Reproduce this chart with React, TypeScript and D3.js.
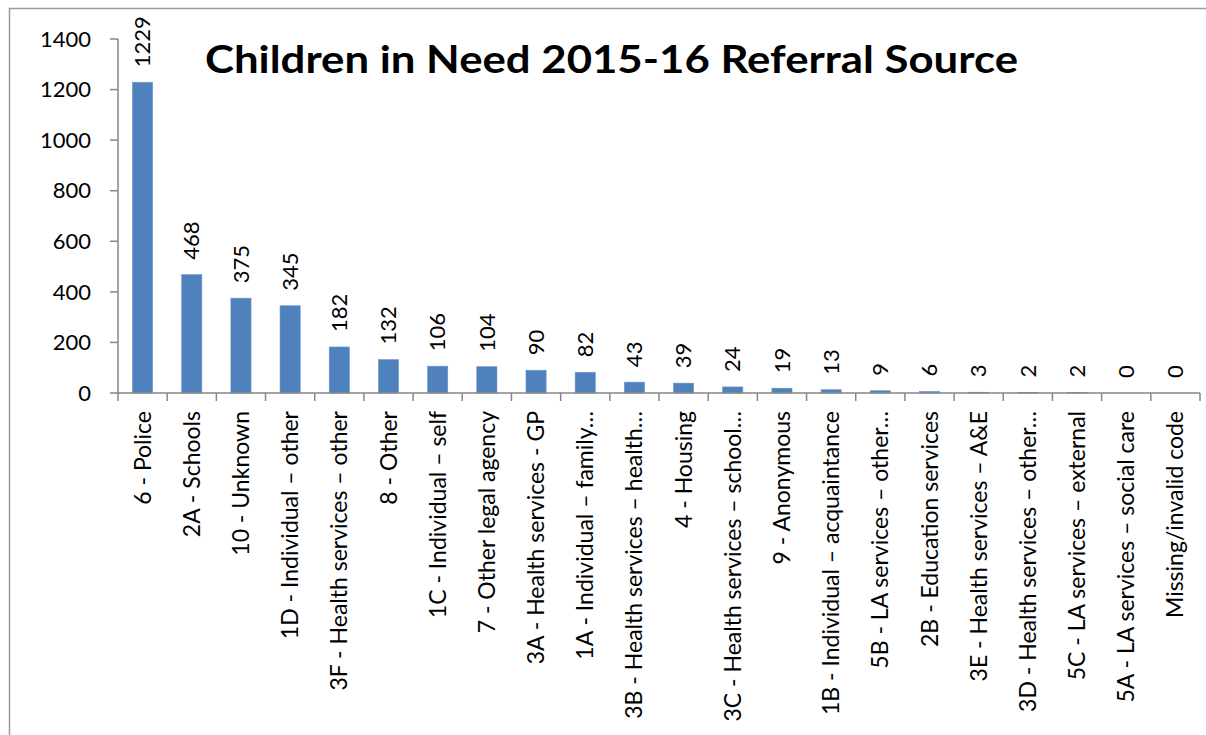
import * as d3 from "d3";

const categories = [
  "6 - Police",
  "2A - Schools",
  "10 - Unknown",
  "1D - Individual – other",
  "3F - Health services – other",
  "8 - Other",
  "1C - Individual – self",
  "7 - Other legal agency",
  "3A - Health services - GP",
  "1A - Individual – family…",
  "3B - Health services – health…",
  "4 - Housing",
  "3C - Health services – school…",
  "9 - Anonymous",
  "1B - Individual – acquaintance",
  "5B - LA services – other…",
  "2B - Education services",
  "3E - Health services – A&E",
  "3D - Health services – other…",
  "5C - LA services – external",
  "5A - LA services – social care",
  "Missing/invalid code",
];

const referrals = [1229, 468, 375, 345, 182, 132, 106, 104, 90, 82, 43, 39, 24, 19, 13, 9, 6, 3, 2, 2, 0, 0];

const yTicks = [0, 200, 400, 600, 800, 1000, 1200, 1400];

const TITLE = "Children in Need 2015-16 Referral Source";

const W = 1206;
const H = 735;
const FONT = "Lato, 'Open Sans', sans-serif";
const AXIS = "#868686";
const BAR = "#4F81BD";

export default function App() {
  const x = d3.scaleBand<string>().domain(categories).range([118, 1200]).paddingInner(0.59).paddingOuter(0.295);
  const y = d3.scaleLinear().domain([0, 1400]).range([393, 39]);
  const y0 = y(0);
  const step = x.step();
  const [x0, x1] = x.range();

  return (
    <svg width={W} height={H} style={{ position: "absolute", left: 0, top: 0, background: "#fff" }} fontFamily={FONT}>
      <rect x={9.5} y={8.5} width={W + 20} height={H + 20} fill="#fff" stroke="#9a9a9a" strokeWidth={1.5} />

      {/* y axis */}
      <line x1={x0} x2={x0} y1={y(1400)} y2={y0} stroke={AXIS} strokeWidth={1.5} />
      {yTicks.map((t) => (
        <g key={t}>
          <line x1={x0 - 8} x2={x0} y1={y(t)} y2={y(t)} stroke={AXIS} strokeWidth={1.5} />
          <text x={91} y={y(t)} dy="0.35em" textAnchor="end" fontSize={22} fill="#000">
            {t}
          </text>
        </g>
      ))}

      {/* bars */}
      {categories.map((c, i) => (
        <rect key={c} x={x(c)} y={y(referrals[i])} width={x.bandwidth()} height={y0 - y(referrals[i])} fill={BAR} stroke="#6b95c9" strokeWidth={0.6} />
      ))}

      {/* x axis */}
      <line x1={x0} x2={x1} y1={y0} y2={y0} stroke={AXIS} strokeWidth={1.5} />
      {d3.range(categories.length + 1).map((i) => (
        <line key={i} x1={x0 + i * step} x2={x0 + i * step} y1={y0} y2={y0 + 8} stroke={AXIS} strokeWidth={1.5} />
      ))}

      {/* category labels */}
      {categories.map((c) => {
        const cx = (x(c) ?? 0) + x.bandwidth() / 2;
        return (
          <text key={c} transform={`translate(${cx},${y0 + 18}) rotate(-90)`} dy="0.35em" textAnchor="end" fontSize={23} fill="#000">
            {c}
          </text>
        );
      })}

      {/* value labels */}
      {categories.map((c, i) => {
        const cx = (x(c) ?? 0) + x.bandwidth() / 2;
        return (
          <text key={c} transform={`translate(${cx},${y(referrals[i]) - 15}) rotate(-90)`} dy="0.35em" textAnchor="start" fontSize={22} fill="#000">
            {referrals[i]}
          </text>
        );
      })}

      <text x={205} y={73} fontSize={38} fontWeight="bold" fill="#000" textLength={813} lengthAdjust="spacingAndGlyphs">
        {TITLE}
      </text>
    </svg>
  );
}
